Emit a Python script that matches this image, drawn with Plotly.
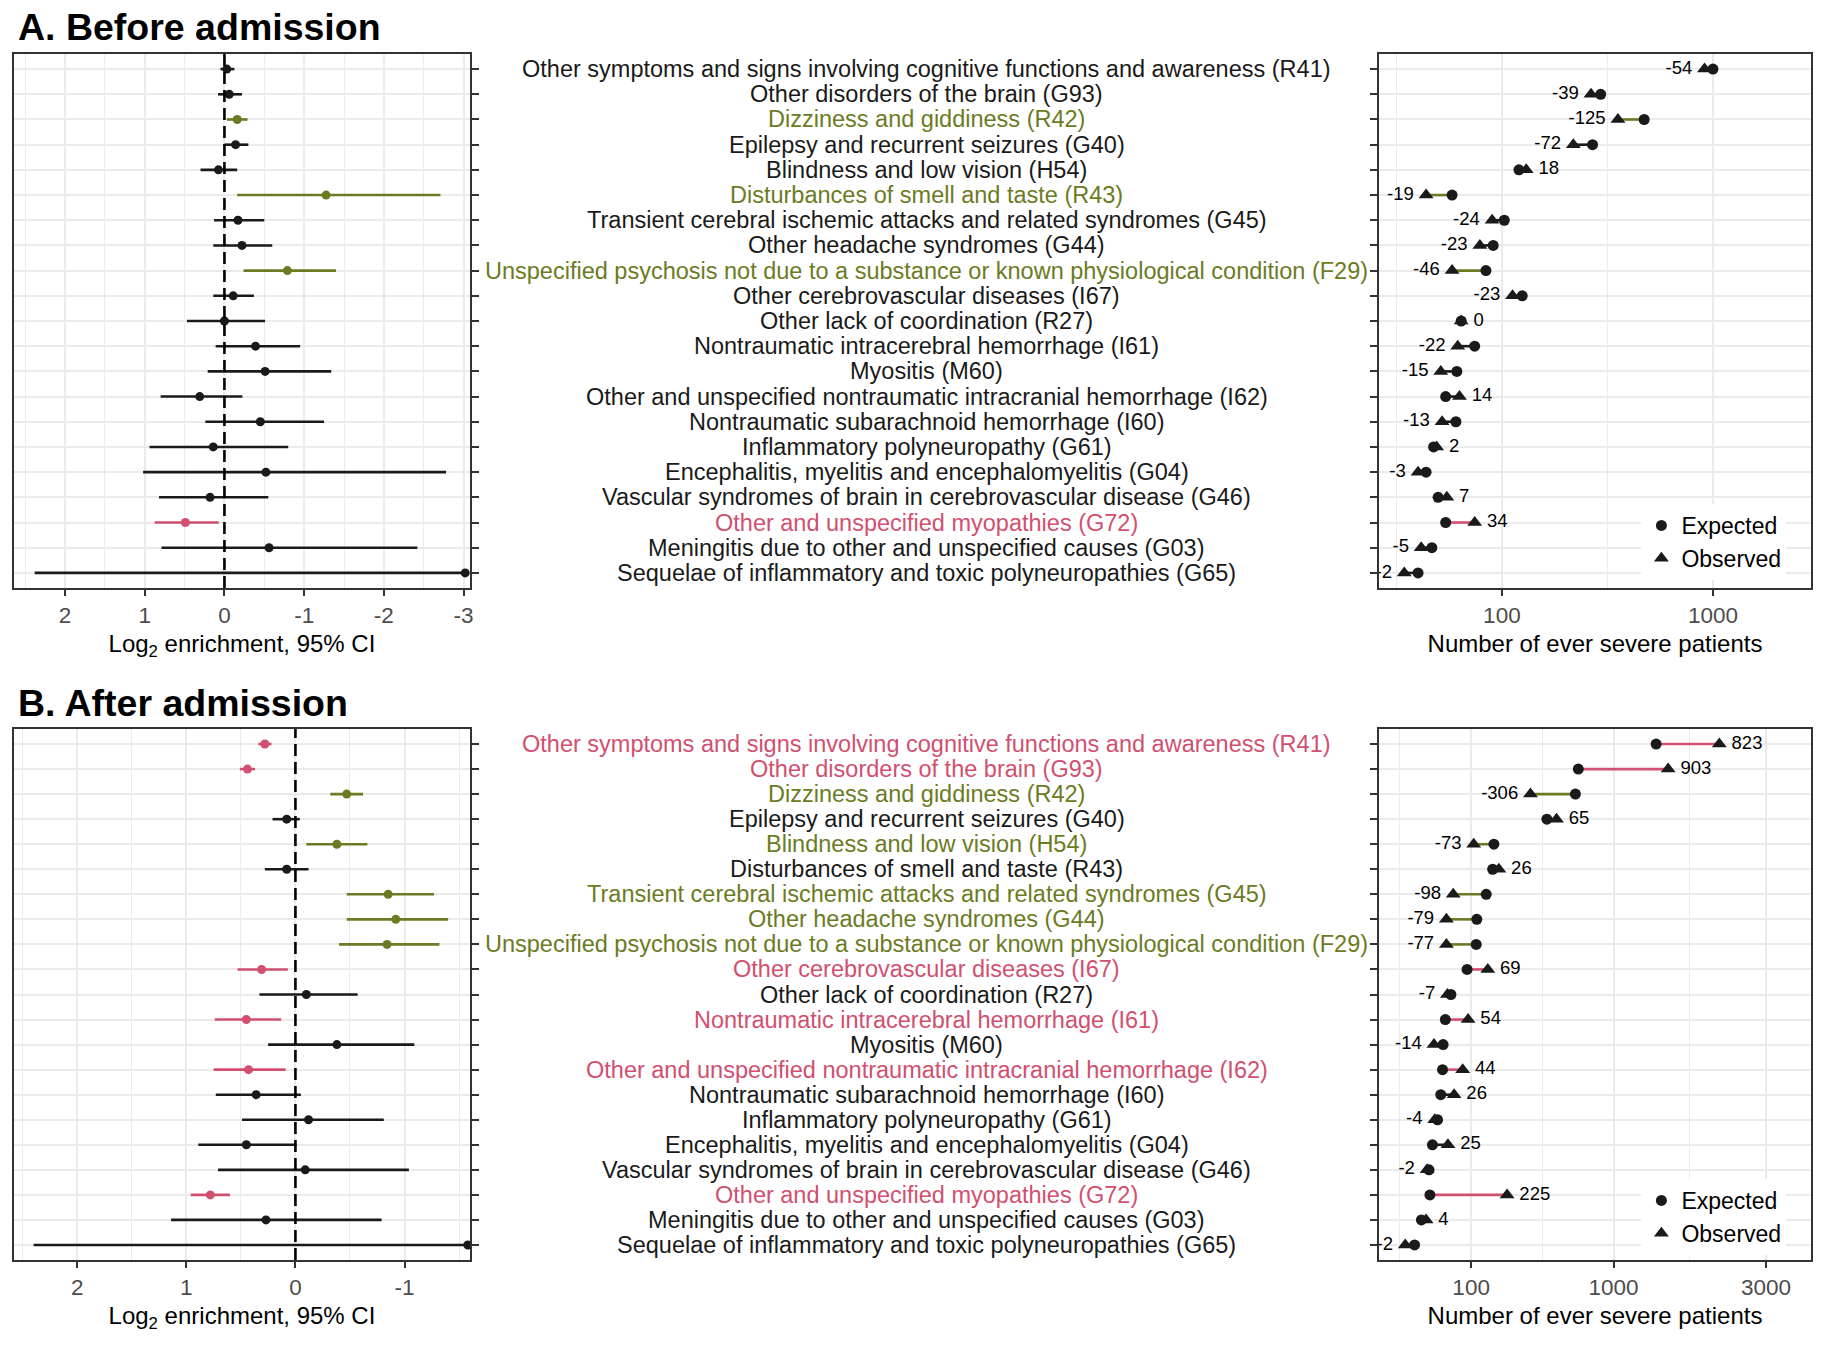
import numpy as np
import plotly.graph_objects as go

# ---------------- data ----------------
categories = [
    "Other symptoms and signs involving cognitive functions and awareness (R41)",
    "Other disorders of the brain (G93)",
    "Dizziness and giddiness (R42)",
    "Epilepsy and recurrent seizures (G40)",
    "Blindness and low vision (H54)",
    "Disturbances of smell and taste (R43)",
    "Transient cerebral ischemic attacks and related syndromes (G45)",
    "Other headache syndromes (G44)",
    "Unspecified psychosis not due to a substance or known physiological condition (F29)",
    "Other cerebrovascular diseases (I67)",
    "Other lack of coordination (R27)",
    "Nontraumatic intracerebral hemorrhage (I61)",
    "Myositis (M60)",
    "Other and unspecified nontraumatic intracranial hemorrhage (I62)",
    "Nontraumatic subarachnoid hemorrhage (I60)",
    "Inflammatory polyneuropathy (G61)",
    "Encephalitis, myelitis and encephalomyelitis (G04)",
    "Vascular syndromes of brain in cerebrovascular disease (G46)",
    "Other and unspecified myopathies (G72)",
    "Meningitis due to other and unspecified causes (G03)",
    "Sequelae of inflammatory and toxic polyneuropathies (G65)",
]

# significance status: "enr" (enriched), "dep" (depleted), "ns"
status_A = ["ns", "ns", "dep", "ns", "ns", "dep", "ns", "ns", "dep", "ns", "ns",
            "ns", "ns", "ns", "ns", "ns", "ns", "ns", "enr", "ns", "ns"]
status_B = ["enr", "enr", "dep", "ns", "dep", "ns", "dep", "dep", "dep", "enr", "ns",
            "enr", "ns", "enr", "ns", "ns", "ns", "ns", "enr", "ns", "ns"]

# log2 enrichment with 95% CI
est_A = [-0.03, -0.06, -0.16, -0.14, 0.075, -1.275, -0.17, -0.22, -0.79, -0.11, 0.0,
         -0.39, -0.51, 0.31, -0.45, 0.14, -0.52, 0.18, 0.49, -0.56, -3.02]
ci_hi_A = [0.05, 0.08, -0.03, 0.0, 0.30, -0.16, 0.13, 0.14, -0.24, 0.14, 0.47,
           0.11, 0.21, 0.80, 0.24, 0.94, 1.02, 0.82, 0.875, 0.79, 2.38]
ci_lo_A = [-0.125, -0.22, -0.29, -0.30, -0.16, -2.71, -0.50, -0.60, -1.40, -0.37, -0.51,
           -0.95, -1.34, -0.225, -1.25, -0.80, -2.78, -0.55, 0.07, -2.42, -3.02]

est_B = [0.28, 0.44, -0.47, 0.08, -0.38, 0.08, -0.85, -0.92, -0.84, 0.31, -0.10,
         0.45, -0.38, 0.43, 0.36, -0.12, 0.45, -0.09, 0.78, 0.27, -1.58]
ci_hi_B = [0.34, 0.51, -0.32, 0.21, -0.10, 0.28, -0.47, -0.47, -0.40, 0.53, 0.33,
           0.74, 0.25, 0.75, 0.73, 0.49, 0.89, 0.71, 0.96, 1.14, 2.40]
ci_lo_B = [0.22, 0.37, -0.62, -0.04, -0.66, -0.12, -1.27, -1.40, -1.32, 0.07, -0.57,
           0.13, -1.09, 0.09, -0.05, -0.81, -0.01, -1.04, 0.60, -0.79, -1.58]

# number of ever severe patients
expected_A = [1000, 405, 604, 372, 138, 24, 105, 83, 70, 146, 34,
              52, 29, 18, 28, 9, 5, 12, 18, 8, 2]
observed_A = [946, 366, 479, 300, 156, 5, 81, 60, 24, 123, 34,
              30, 14, 32, 15, 11, 2, 19, 52, 3, 0]
expected_B = [1450, 690, 667, 462, 181, 176, 151, 118, 116, 88, 48,
              37, 33, 32, 29, 24, 17, 13, 14, 6, 2]
observed_B = [2273, 1593, 361, 527, 108, 202, 53, 39, 39, 157, 41,
              91, 19, 76, 55, 20, 42, 11, 239, 10, 0]

forest_ticks_A = [2, 1, 0, -1, -2, -3]
forest_ticks_B = [2, 1, 0, -1]
count_ticks_A = [100, 1000]
count_ticks_B = [100, 1000, 3000]

# ---------------- style ----------------
W, H = 1832, 1350
FONT = "Liberation Sans, Arial, Helvetica, sans-serif"
COL = {"enr": "#D1506F", "dep": "#6B7B23", "ns": "#1A1A1A"}
GRID = "#EBEBEB"
BORDER = "#333333"
TICKC = "#4D4D4D"

fig = go.Figure()
n = len(categories)


def forest(est, hi, lo, status, xa, ya):
    for key in ["ns", "dep", "enr"]:
        xs, ys, px, py = [], [], [], []
        for i in range(n):
            if status[i] != key:
                continue
            xs += [hi[i], lo[i], None]
            ys += [categories[i], categories[i], None]
            px.append(est[i])
            py.append(categories[i])
        if not px:
            continue
        fig.add_trace(go.Scatter(x=xs, y=ys, mode="lines", xaxis=xa, yaxis=ya,
                                 line=dict(color=COL[key], width=2.6),
                                 showlegend=False, hoverinfo="skip"))
        fig.add_trace(go.Scatter(x=px, y=py, mode="markers", xaxis=xa, yaxis=ya,
                                 marker=dict(color=COL[key], size=9),
                                 showlegend=False))


def dots(exp, obs, status, xa, ya, legend):
    se = np.sqrt(np.array(exp, dtype=float))
    so = np.sqrt(np.array(obs, dtype=float))
    for key in ["ns", "dep", "enr"]:
        xs, ys = [], []
        for i in range(n):
            if status[i] != key:
                continue
            xs += [se[i], so[i], None]
            ys += [categories[i], categories[i], None]
        if xs:
            fig.add_trace(go.Scatter(x=xs, y=ys, mode="lines", xaxis=xa, yaxis=ya,
                                     line=dict(color=COL[key], width=2.6),
                                     showlegend=False, hoverinfo="skip"))
    fig.add_trace(go.Scatter(x=se, y=categories, mode="markers", xaxis=xa, yaxis=ya,
                             name="Expected", legend=legend,
                             marker=dict(symbol="circle", size=11, color="#1A1A1A")))
    fig.add_trace(go.Scatter(x=so, y=categories, mode="markers", xaxis=xa, yaxis=ya,
                             name="Observed", legend=legend,
                             marker=dict(symbol="triangle-up", size=13, color="#1A1A1A")))
    diff = [o - e for o, e in zip(obs, exp)]
    pos = ["middle left" if d < 0 else "middle right" for d in diff]
    fig.add_trace(go.Scatter(x=so, y=categories, mode="markers+text", xaxis=xa, yaxis=ya,
                             text=[str(d) for d in diff], textposition=pos,
                             textfont=dict(size=18.5, color="#000000", family=FONT),
                             marker=dict(size=18, color="rgba(0,0,0,0)"),
                             showlegend=False, hoverinfo="skip"))


forest(est_A, ci_hi_A, ci_lo_A, status_A, "x", "y")
dots(expected_A, observed_A, status_A, "x2", "y2", "legend")
forest(est_B, ci_hi_B, ci_lo_B, status_B, "x3", "y3")
dots(expected_B, observed_B, status_B, "x4", "y4", "legend2")

# ---------------- axes ----------------
FX = [14 / W, 471 / W]
DX = [1382 / W, 1815 / W]
AY = [1 - 588 / H, 1 - 54 / H]
BY = [1 - 1260 / H, 1 - 729 / H]


def mid_minor(majors_t):
    m = sorted(majors_t)
    d = m[1] - m[0]
    ext = [m[0] - d] + m + [m[-1] + (m[-1] - m[-2])]
    return [(a + b) / 2 for a, b in zip(ext[:-1], ext[1:])]


def xaxis_common(domain, anchor, rng, tickvals, ticktext, minor_vals, title):
    return dict(domain=domain, anchor=anchor, range=rng, tickmode="array",
                tickvals=tickvals, ticktext=ticktext, showgrid=True, gridcolor=GRID,
                gridwidth=2, zeroline=False, showline=True, mirror=True,
                linecolor=BORDER, linewidth=1.5, ticks="outside", ticklen=6,
                tickwidth=1.5, tickcolor=BORDER,
                tickfont=dict(size=22.5, color=TICKC, family=FONT),
                minor=dict(tickmode="array", tickvals=minor_vals, showgrid=True,
                           gridcolor=GRID, gridwidth=1, ticks=""),
                title=dict(text=title, font=dict(size=24, color="#000000", family=FONT),
                           standoff=8))


def yaxis_common(domain, anchor, side):
    return dict(domain=domain, anchor=anchor, side=side, type="category",
                categoryorder="array", categoryarray=categories,
                range=[n - 0.4, -0.6], showgrid=True, gridcolor=GRID, gridwidth=2,
                zeroline=False, showline=True, mirror=True, linecolor=BORDER,
                linewidth=1.5, ticks="outside", ticklen=7, tickwidth=1.5,
                tickcolor=BORDER, showticklabels=False)


log2_title = "Log<sub>2</sub> enrichment, 95% CI"
num_title = "Number of ever severe patients"

sqA = list(np.sqrt(count_ticks_A))
sqB = list(np.sqrt(count_ticks_B))

fig.update_layout(
    xaxis=xaxis_common(FX, "y", [2.64, -3.08], forest_ticks_A, [str(v) for v in forest_ticks_A],
                       mid_minor(forest_ticks_A), log2_title),
    yaxis=yaxis_common(AY, "x", "right"),
    xaxis2=xaxis_common(DX, "y2", [-2.59, 41.67], sqA, [str(v) for v in count_ticks_A],
                        mid_minor(sqA), num_title),
    yaxis2=yaxis_common(AY, "x2", "left"),
    xaxis3=xaxis_common(FX, "y3", [2.58, -1.60], forest_ticks_B, [str(v) for v in forest_ticks_B],
                        mid_minor(forest_ticks_B), log2_title),
    yaxis3=yaxis_common(BY, "x3", "right"),
    xaxis4=xaxis_common(DX, "y4", [-3.99, 61.6], sqB, [str(v) for v in count_ticks_B],
                        mid_minor(sqB), num_title),
    yaxis4=yaxis_common(BY, "x4", "left"),
)

# dashed zero lines
for xa, ya in [("x", "y"), ("x3", "y3")]:
    fig.add_shape(type="line", xref=xa, yref=ya + " domain", x0=0, x1=0, y0=0, y1=1,
                  line=dict(color="#000000", width=2.6, dash="12px,6px"), layer="above")

# category labels, centred between the panels
for ya, status in [("y2", status_A), ("y4", status_B)]:
    for cat, st in zip(categories, status):
        fig.add_annotation(text=cat, xref="paper", x=929 / W, xanchor="center",
                           yref=ya, y=cat, yanchor="middle", showarrow=False,
                           font=dict(size=23.5, color=COL[st], family=FONT))

# panel titles
fig.add_annotation(text="<b>A. Before admission</b>", xref="paper", yref="paper",
                   x=16 / W, y=1 - 27 / H, xanchor="left", yanchor="middle",
                   showarrow=False, font=dict(size=37.5, color="#000000", family=FONT))
fig.add_annotation(text="<b>B. After admission</b>", xref="paper", yref="paper",
                   x=16 / W, y=1 - 703 / H, xanchor="left", yanchor="middle",
                   showarrow=False, font=dict(size=37.5, color="#000000", family=FONT))

leg = dict(xanchor="left", yanchor="top", bgcolor="white", borderwidth=0,
           font=dict(size=23, color="#000000", family=FONT), tracegroupgap=0,
           itemwidth=30)
fig.update_layout(
    legend=dict(x=1645 / W, y=1 - 504 / H, **leg),
    legend2=dict(x=1645 / W, y=1 - 1179 / H, **leg),
    width=W, height=H, margin=dict(l=0, r=0, t=0, b=0),
    paper_bgcolor="white", plot_bgcolor="white",
    font=dict(family=FONT),
)

fig.write_html("out.html", config={"displayModeBar": False},
               post_script="document.body.style.margin='0px';")
